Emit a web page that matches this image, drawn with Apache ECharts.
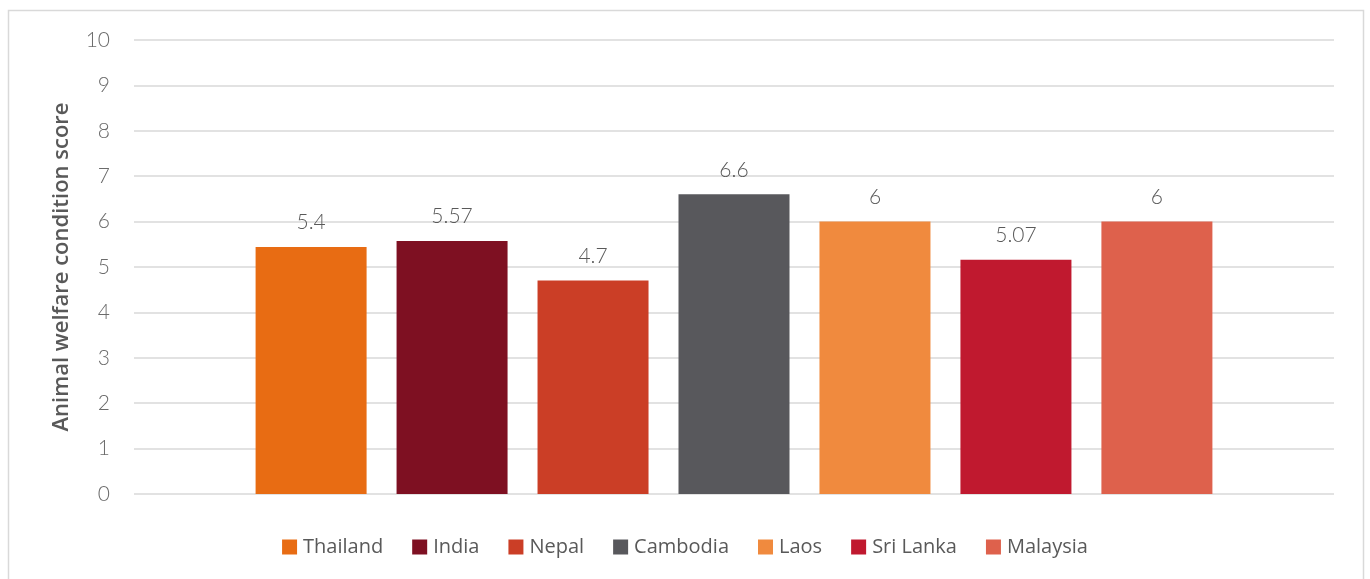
<!DOCTYPE html>
<html>
<head>
<meta charset="utf-8">
<script src="https://cdn.jsdelivr.net/npm/echarts@6/dist/echarts.min.js"></script>
<style>
html,body{margin:0;padding:0;background:#fff;}
#chart{width:1370px;height:579px;}
</style>
</head>
<body>
<div id="chart"></div>
<script>
const countries = ['Thailand', 'India', 'Nepal', 'Cambodia', 'Laos', 'Sri Lanka', 'Malaysia'];
const scores = [5.44, 5.57, 4.7, 6.6, 6.0, 5.16, 6.0];
const scoreLabels = ['5.4', '5.57', '4.7', '6.6', '6', '5.07', '6'];
const colors = ['#E86C13', '#7E1022', '#CB3E26', '#58585C', '#F08A3E', '#C0192F', '#DE614C'];
const yTicks = [0, 10, 1];
const axisTitle = 'Animal welfare condition score';

const chart = echarts.init(document.getElementById('chart'));
const series = countries.map((name, i) => ({
  name: name,
  type: 'bar',
  data: [scores[i]],
  barWidth: 111,
  barGap: '27%',
  itemStyle: { color: colors[i] },
  label: {
    show: true,
    position: 'top',
    distance: 14,
    formatter: () => scoreLabels[i],
    fontFamily: 'Lato',
    fontWeight: 300,
    fontSize: 21,
    color: '#595959'
  }
}));

chart.setOption({
  animation: false,
  backgroundColor: '#fff',
  graphic: [{
    type: 'rect',
    shape: { x: 8.5, y: 10.5, width: 1355, height: 620 },
    style: { fill: 'none', stroke: '#d9d9d9', lineWidth: 1.5 },
    silent: true
  }],
  grid: { left: 134, right: 36, top: 40, bottom: 85, containLabel: false },
  legend: {
    bottom: 17,
    left: 'center',
    icon: 'rect',
    itemWidth: 15,
    itemHeight: 15,
    itemGap: 29,
    textStyle: { fontFamily: 'Open Sans', fontSize: 20, color: '#595959', padding: [0, 0, 0, 1] },
    data: countries
  },
  xAxis: {
    type: 'category',
    data: [''],
    axisLine: { show: false },
    axisTick: { show: false },
    axisLabel: { show: false }
  },
  yAxis: {
    type: 'value',
    min: yTicks[0],
    max: yTicks[1],
    interval: yTicks[2],
    name: axisTitle,
    nameLocation: 'middle',
    nameGap: 61,
    nameRotate: 90,
    nameTextStyle: { fontFamily: 'Open Sans', fontWeight: 600, fontSize: 22, color: '#595959' },
    axisLine: { show: false },
    axisTick: { show: false },
    axisLabel: { fontFamily: 'Lato', fontWeight: 300, fontSize: 21, color: '#6b6b6b', margin: 24 },
    splitLine: { lineStyle: { color: '#d9d9d9', width: 1.5 } }
  },
  series: series
});
</script>
</body>
</html>
